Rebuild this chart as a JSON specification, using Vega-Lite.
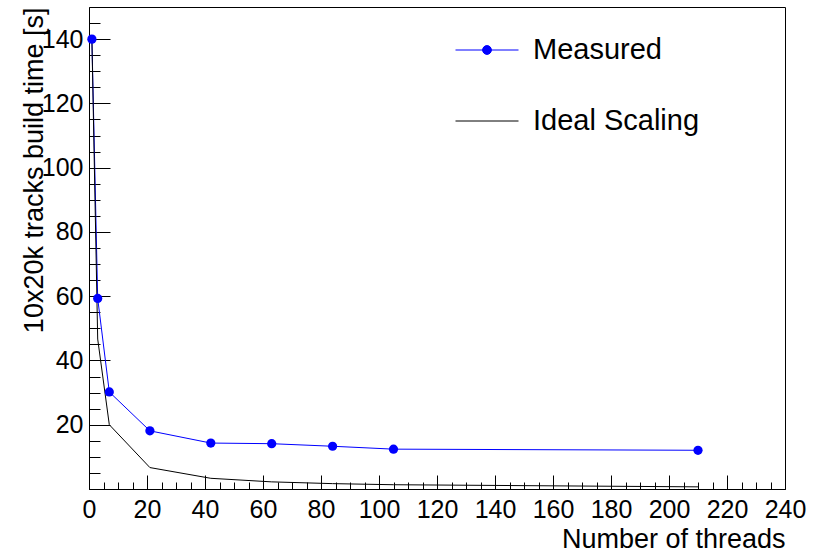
{
  "$schema": "https://vega.github.io/schema/vega-lite/v6.json",
  "width": 696,
  "height": 482,
  "autosize": {"type": "none"},
  "padding": {"left": 89, "top": 7, "right": 49, "bottom": 63},
  "background": "white",
  "config": {
    "font": "Liberation Sans",
    "view": {"stroke": "#000000", "strokeWidth": 1},
    "axis": {"labelFont": "Liberation Sans", "titleFont": "Liberation Sans", "labelColor": "#000000", "titleColor": "#000000", "tickColor": "#000000", "domainColor": "#000000", "grid": false, "titleFontWeight": "normal", "labelOverlap": false, "labelFlush": false}
  },
  "data": {
    "values": [
      {"threads": 1, "time": 140, "series": "Measured"},
      {"threads": 3, "time": 59.3, "series": "Measured"},
      {"threads": 7, "time": 30.2, "series": "Measured"},
      {"threads": 21, "time": 18.1, "series": "Measured"},
      {"threads": 42, "time": 14.3, "series": "Measured"},
      {"threads": 63, "time": 14.1, "series": "Measured"},
      {"threads": 84, "time": 13.3, "series": "Measured"},
      {"threads": 105, "time": 12.4, "series": "Measured"},
      {"threads": 210, "time": 12.05, "series": "Measured"},
      {"threads": 1, "time": 140, "series": "Ideal Scaling"},
      {"threads": 3, "time": 46.67, "series": "Ideal Scaling"},
      {"threads": 7, "time": 20, "series": "Ideal Scaling"},
      {"threads": 21, "time": 6.67, "series": "Ideal Scaling"},
      {"threads": 42, "time": 3.33, "series": "Ideal Scaling"},
      {"threads": 63, "time": 2.22, "series": "Ideal Scaling"},
      {"threads": 84, "time": 1.67, "series": "Ideal Scaling"},
      {"threads": 105, "time": 1.33, "series": "Ideal Scaling"},
      {"threads": 210, "time": 0.67, "series": "Ideal Scaling"}
    ]
  },
  "resolve": {"axis": {"x": "independent", "y": "independent"}},
  "layer": [
    {
      "mark": {"type": "line", "strokeWidth": 1},
      "encoding": {
        "x": {"field": "threads", "type": "quantitative",
          "scale": {"domain": [0, 240], "nice": false, "zero": false},
          "axis": {"orient": "bottom", "values": [0,5,10,15,20,25,30,35,40,45,50,55,60,65,70,75,80,85,90,95,100,105,110,115,120,125,130,135,140,145,150,155,160,165,170,175,180,185,190,195,200,205,210,215,220,225,230,235,240], "labels": false, "tickSize": -7, "domain": false, "title": null}},
        "y": {"field": "time", "type": "quantitative",
          "scale": {"domain": [0, 150], "nice": false, "zero": false},
          "axis": {"orient": "left", "values": [0,5,10,15,20,25,30,35,40,45,50,55,60,65,70,75,80,85,90,95,100,105,110,115,120,125,130,135,140,145,150], "labels": false, "tickSize": -11, "domain": false, "title": null}},
        "stroke": {"field": "series", "type": "nominal",
          "scale": {"domain": ["Measured", "Ideal Scaling"], "range": ["#0000ff", "#000000"]},
          "legend": {
            "orient": "none", "legendX": 366, "legendY": 11, "title": null,
            "symbolType": "M-1,0H1",
            "symbolSize": 3969, "symbolStrokeWidth": 1,
            "labelFontSize": 29, "labelFont": "Liberation Sans", "labelColor": "#000000", "labelLimit": 400,
            "labelOffset": 14, "rowPadding": 24, "padding": 0,
            "encode": {"symbols": {"update": {"fill": {"signal": "datum.value === 'Measured' ? '#0000ff' : 'transparent'"}, "shape": {"signal": "datum.value === 'Measured' ? 'M-1,0H1M0,-0.14A0.14,0.14 0 1,0 0,0.14A0.14,0.14 0 1,0 0,-0.14Z' : 'M-1,0H1'"}}}}
          }}
      }
    },
    {
      "transform": [{"filter": "datum.series === 'Measured'"}],
      "mark": {"type": "point", "filled": true, "size": 85, "opacity": 1, "color": "#0000ff"},
      "encoding": {
        "x": {"field": "threads", "type": "quantitative",
          "axis": {"orient": "bottom", "values": [0,20,40,60,80,100,120,140,160,180,200,220,240], "tickSize": -14, "labelFontSize": 25, "labelPadding": 22, "domain": false,
            "title": "Number of threads", "titleFontSize": 27, "titleAlign": "right", "titleAnchor": "end", "titleBaseline": "alphabetic", "titleX": 696, "titleY": 58}},
        "y": {"field": "time", "type": "quantitative",
          "axis": {"orient": "left", "values": [20,40,60,80,100,120,140], "tickSize": -21, "labelFontSize": 25, "labelPadding": 27, "domain": false,
            "title": "10x20k tracks build time [s]", "titleFontSize": 27, "titleAngle": -90, "titleAlign": "right", "titleAnchor": "end", "titleBaseline": "alphabetic", "titleX": -47, "titleY": 0}}
      }
    }
  ]
}
